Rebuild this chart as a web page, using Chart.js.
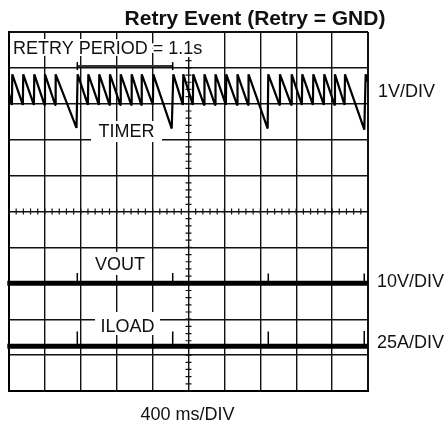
<!DOCTYPE html>
<html>
<head>
<meta charset="utf-8">
<script src="https://cdn.jsdelivr.net/npm/chart.js@4.4.0/dist/chart.umd.min.js"></script>
<style>
  html, body { margin: 0; padding: 0; background: #fff; }
  #wrap { width: 447px; height: 423px; }
</style>
</head>
<body>
<div id="wrap"><canvas id="scope" width="447" height="423"></canvas></div>
<script>
// time in ms (10 div x 400 ms), level in screen divisions (0 = bottom edge)
const timerTime = [
  0, 32, 37, 154, 159, 277, 282, 396, 401, 515, 520, 752, 765,
  879, 884, 1001, 1006, 1120, 1125, 1240, 1245, 1362, 1367, 1474, 1479, 1603, 1608, 1813, 1831,
  1937, 1942, 2048, 2053, 2173, 2178, 2296, 2301, 2416, 2421, 2541, 2546, 2664, 2669, 2882, 2889,
  3014, 3019, 3145, 3150, 3263, 3268, 3386, 3391, 3508, 3513, 3627, 3632, 3739, 3744, 3959, 3974,
  4000
];
const timerLevel = [
  8.28, 7.97, 8.82, 7.97, 8.82, 7.97, 8.82, 7.97, 8.82, 7.97, 8.82, 7.33, 8.82,
  7.97, 8.82, 7.97, 8.82, 7.97, 8.82, 7.97, 8.82, 7.97, 8.82, 7.97, 8.82, 7.97, 8.82, 7.31, 8.82,
  7.97, 8.82, 7.97, 8.82, 7.97, 8.82, 7.97, 8.82, 7.97, 8.82, 7.97, 8.82, 7.97, 8.82, 7.31, 8.82,
  7.97, 8.82, 7.97, 8.82, 7.97, 8.82, 7.97, 8.82, 7.97, 8.82, 7.97, 8.82, 7.97, 8.82, 7.28, 8.82,
  8.62
];
const voutTime = [-19, 4000];
const voutLevel = [3, 3];
const voutSpikeTime = [761, 1824, 2889, 3958];
const voutSpikeTop = [3.29, 3.29, 3.27, 3.27];
const iloadTime = [-19, 3990];
const iloadLevel = [1.25, 1.25];
const iloadSpikeTime = [761, 1824, 2889, 3958];
const iloadSpikeTop = [1.66, 1.66, 1.66, 1.67];
const retryPeriod = [761, 1824];
const retryBarLevel = 9.05;

const pts = (xs, ys) => xs.map((t, i) => ({ x: t, y: ys[i] }));
const spikes = (xs, base, tops) => xs.flatMap((t, i) => [
  { x: t, y: base }, { x: t, y: tops[i] }, { x: t, y: null }
]);

const FONT = '"Liberation Sans", Arial, sans-serif';

const scopeDecor = {
  id: 'scopeDecor',
  beforeDatasetsDraw(chart) {
    const { ctx, scales: { x, y } } = chart;
    const cx = x.getPixelForValue(2000), cy = y.getPixelForValue(5);
    ctx.save();
    // minor graticule marks on the centre lines
    ctx.strokeStyle = '#111';
    ctx.lineWidth = 1.2;
    ctx.beginPath();
    for (let k = 0; k <= 50; k++) {
      const py = y.getPixelForValue(k / 5);
      ctx.moveTo(cx - 3, py); ctx.lineTo(cx + 3, py);
    }
    for (let k = 0; k <= 50; k++) {
      const px = x.getPixelForValue(k * 80);
      ctx.moveTo(px, cy - 3); ctx.lineTo(px, cy + 3);
    }
    ctx.stroke();

    ctx.fillStyle = '#fff';
    ctx.fillRect(cx - 4, 33, 8, 24);
    ctx.fillRect(91, 121, 71, 21);   // TIMER
    ctx.fillRect(93, 252, 54, 23);   // VOUT
    ctx.fillRect(95, 312, 65, 23);   // ILOAD

    ctx.font = '18px ' + FONT;
    ctx.lineJoin = 'round';
    const label = (txt, px, py, align) => {
      ctx.textAlign = align;
      ctx.strokeStyle = '#fff';
      ctx.lineWidth = 4;
      ctx.strokeText(txt, px, py);
      ctx.fillStyle = '#111';
      ctx.fillText(txt, px, py);
    };
    label('RETRY PERIOD = 1.1s', 13, 53.5, 'left');
    label('TIMER', 126.5, 137, 'center');
    label('VOUT', 120, 270, 'center');
    label('ILOAD', 127.5, 332, 'center');
    ctx.restore();
  },
  afterDraw(chart) {
    const { ctx } = chart;
    ctx.save();
    ctx.fillStyle = '#111';
    ctx.font = 'bold 21px ' + FONT;
    ctx.textAlign = 'center';
    ctx.fillText('Retry Event (Retry = GND)', 255, 25);
    ctx.font = '18px ' + FONT;
    ctx.textAlign = 'left';
    ctx.fillText('1V/DIV', 378, 96.5);
    ctx.fillText('10V/DIV', 377, 287);
    ctx.fillText('25A/DIV', 377, 348);
    ctx.textAlign = 'center';
    ctx.fillText('400 ms/DIV', 187.5, 420);
    ctx.restore();
  }
};

const edge = (c, lo, hi) => (c.tick && (c.tick.value === lo || c.tick.value === hi)) ? 2 : 1.4;

new Chart(document.getElementById('scope').getContext('2d'), {
  type: 'line',
  data: {
    datasets: [{
      data: pts(timerTime, timerLevel),
      borderColor: '#000',
      borderWidth: 2.2,
      borderJoinStyle: 'bevel',
      pointRadius: 0,
      clip: false
    }, {
      data: pts(voutTime, voutLevel),
      borderColor: '#000',
      borderWidth: 5,
      pointRadius: 0,
      clip: false
    }, {
      data: spikes(voutSpikeTime, 3, voutSpikeTop),
      borderColor: '#000',
      borderWidth: 1.5,
      pointRadius: 0,
      clip: false
    }, {
      data: pts(iloadTime, iloadLevel),
      borderColor: '#000',
      borderWidth: 5,
      pointRadius: 0,
      clip: false
    }, {
      data: spikes(iloadSpikeTime, 1.25, iloadSpikeTop),
      borderColor: '#000',
      borderWidth: 1.5,
      pointRadius: 0,
      clip: false
    }, {
      data: pts(retryPeriod, [retryBarLevel, retryBarLevel]),
      borderColor: '#333',
      borderWidth: 2,
      pointStyle: 'line',
      pointRotation: 90,
      pointRadius: 4,
      pointBorderWidth: 1.5,
      pointBorderColor: '#000'
    }]
  },
  options: {
    responsive: false,
    animation: false,
    devicePixelRatio: 1,
    layout: { padding: { left: 9, top: 32, right: 79, bottom: 32 } },
    plugins: { legend: { display: false }, tooltip: { enabled: false } },
    scales: {
      x: {
        type: 'linear', min: 0, max: 4000,
        ticks: { display: false, stepSize: 400 },
        grid: { color: '#111', lineWidth: c => edge(c, 0, 4000), drawTicks: false },
        border: { display: true, color: '#000', width: 2 }
      },
      y: {
        min: 0, max: 10,
        ticks: { display: false, stepSize: 1 },
        grid: { color: '#111', lineWidth: c => edge(c, 0, 10), drawTicks: false },
        border: { display: true, color: '#000', width: 2 }
      }
    }
  },
  plugins: [scopeDecor]
});
</script>
</body>
</html>
